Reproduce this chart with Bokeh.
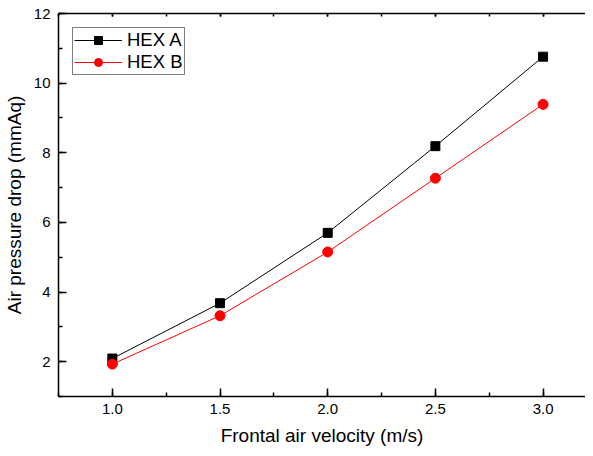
from bokeh.plotting import figure
from bokeh.models import (LinearAxis, SingleIntervalTicker, Range1d, Legend, LegendItem,
                          PrintfTickFormatter, CustomLabelingPolicy)
from bokeh.embed import file_html
from bokeh.resources import INLINE

velocity = [1.0, 1.5, 2.0, 2.5, 3.0]
hex_a = [2.09, 3.68, 5.70, 8.19, 10.76]
hex_b = [1.93, 3.32, 5.15, 7.27, 9.39]
x_title = "Frontal air velocity (m/s)"
y_title = "Air pressure drop (mmAq)"

FONT = "Liberation Sans"

p = figure(width=585, height=448, output_backend="svg", toolbar_location=None,
           x_range=Range1d(0.75, 3.197), y_range=Range1d(1, 12),
           min_border_left=53, min_border_top=7, min_border_bottom=52, min_border_right=0,
           x_axis_type=None, y_axis_type=None)
p.outline_line_color = None
p.xgrid.visible = False
p.ygrid.visible = False
p.background_fill_color = "white"
p.border_fill_color = "white"

def style(ax, major_in=8, minor_in=4):
    ax.axis_line_color = "black"
    ax.axis_line_width = 1.5
    ax.major_tick_line_color = "black"
    ax.minor_tick_line_color = "black"
    ax.major_tick_line_width = 1.5
    ax.minor_tick_line_width = 1.5
    ax.major_tick_in = major_in
    ax.major_tick_out = 0
    ax.minor_tick_in = minor_in
    ax.minor_tick_out = 0
    ax.major_label_text_font = FONT
    ax.major_label_text_font_size = "15px"
    ax.major_label_text_color = "black"
    ax.axis_label_text_font = FONT
    ax.axis_label_text_font_size = "19px"
    ax.axis_label_text_font_style = "normal"
    ax.axis_label_text_color = "black"

xb = LinearAxis(ticker=SingleIntervalTicker(interval=0.5, num_minor_ticks=2),
                formatter=PrintfTickFormatter(format="%.1f"),
                axis_label=x_title)
style(xb)
xb.major_label_standoff = 7
xb.axis_label_standoff = 8
p.add_layout(xb, "below")

yl = LinearAxis(ticker=SingleIntervalTicker(interval=2, num_minor_ticks=2),
                axis_label=y_title)
style(yl)
yl.major_label_standoff = 8
yl.axis_label_standoff = 6
p.add_layout(yl, "left")

xt = LinearAxis(ticker=SingleIntervalTicker(interval=0.5, num_minor_ticks=2))
style(xt, major_in=3, minor_in=3)
xt.major_label_standoff = 0
xt.major_label_policy = CustomLabelingPolicy(code="return new Set()")
p.add_layout(xt, "above")

la = p.line(velocity, hex_a, line_color="black", line_width=1)
sa = p.scatter(velocity, hex_a, marker="square", size=9, fill_color="black", line_color="black")
lb = p.line(velocity, hex_b, line_color="#ff0000", line_width=1)
sb = p.scatter(velocity, hex_b, marker="circle", size=10, fill_color="#ff0000", line_color="#ff0000")

legend = Legend(items=[LegendItem(label="HEX A", renderers=[la, sa]),
                       LegendItem(label="HEX B", renderers=[lb, sb])],
                location="top_left")
legend.label_text_font = FONT
legend.label_text_font_size = "18.5px"
legend.label_text_color = "black"
legend.label_text_line_height = 1.0
legend.glyph_width = 48
legend.glyph_height = 20
legend.label_height = 20
legend.label_standoff = 5
legend.spacing = -3
legend.padding = 1
legend.margin = 14
legend.border_line_color = "black"
legend.border_line_width = 1
legend.background_fill_color = "white"
legend.background_fill_alpha = 1
p.add_layout(legend, "center")

open("out.html", "w").write(file_html(p, INLINE))
